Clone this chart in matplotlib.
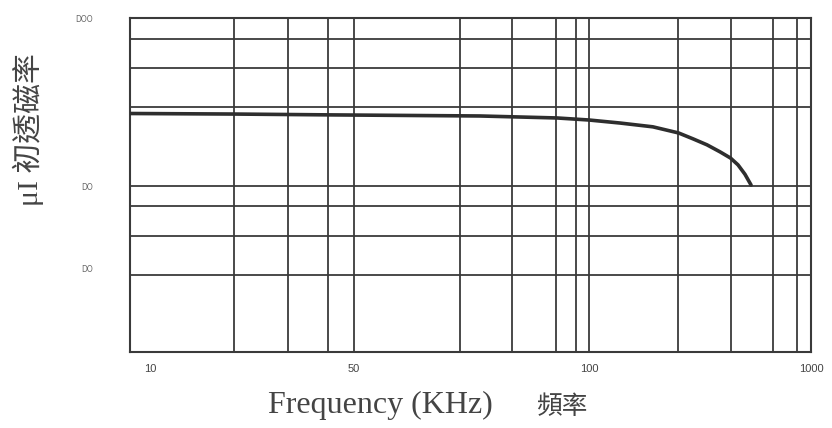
import numpy as np
import matplotlib
matplotlib.use('Agg')
from matplotlib import pyplot as plt

# curve: initial permeability vs frequency
freq = [8.54, 19.4, 40.7, 72.5, 91, 100, 138, 194, 253, 294, 340, 389, 434, 469, 504, 537]
mu = [268, 266, 263, 259, 252, 245, 235, 223, 205, 189, 174, 158, 145, 132, 116, 100]

# grid lines of the printed chart paper
grid_freq = [19.4, 29.6, 40.7, 50, 68.3, 79.7, 90.7, 96.1, 100, 253, 434, 674, 869]
grid_mu = [750, 505, 292, 98, 75, 49.4, 28.8]

xtick_vals = [10, 50, 100, 1000]
xtick_labels = ['10', '50', '100', '1000']
ytick_vals = [1000, 98, 31.8]
ytick_labels = ['DOO', 'DO', 'DO']

# the printed frequency axis is not evenly spaced, so map it piecewise
scale_f = [8.54, 10, 50, 100, 1000]
scale_pos = [0, 20, 224, 459, 681]


def fwd(f):
    f = np.clip(np.asarray(f, dtype=float), 1e-6, None)
    return np.interp(np.log10(f), np.log10(scale_f), scale_pos)


def inv(p):
    return 10 ** np.interp(p, scale_pos, np.log10(scale_f))


fig = plt.figure(figsize=(8.32, 4.28), dpi=100)
ax = fig.add_axes([130 / 832, 1 - 352 / 428, 681 / 832, 334 / 428])
ax.set_xscale('function', functions=(fwd, inv))
ax.set_yscale('log')
ax.set_xlim(8.54, 1000)
ax.set_ylim(10, 1000)

line_col = '#3a3a3a'
for f in grid_freq:
    ax.axvline(f, color=line_col, lw=1.3, zorder=1)
for m in grid_mu:
    ax.axhline(m, color=line_col, lw=1.3, zorder=1)

ax.plot(freq, mu, color='#2e2e2e', lw=2.6, solid_capstyle='round',
        solid_joinstyle='round', zorder=3)

for s in ax.spines.values():
    s.set_color(line_col)
    s.set_linewidth(1.5)

ax.set_xticks(xtick_vals)
ax.set_xticklabels(xtick_labels, fontsize=8, color='#444444', family='Liberation Sans')
ax.set_xticks([], minor=True)
ax.set_yticks(ytick_vals)
ax.set_yticklabels(ytick_labels, fontsize=5.5, color='#666666', family='DejaVu Sans')
ax.set_yticks([], minor=True)
ax.tick_params(axis='x', length=0, pad=9)
ax.tick_params(axis='y', length=0, pad=27)

# axis titles
fig.text(268 / 832, 1 - 413 / 428, 'Frequency (KHz)', fontsize=23, color='#444444',
         family='Liberation Serif', ha='left', va='baseline')
fig.text(536 / 832, 1 - 414 / 428, '頻率', fontsize=18.5, color='#444444',
         family=['Noto Sans CJK TC', 'DejaVu Sans'], ha='left', va='baseline')
fig.text(28 / 832, 1 - 130 / 428, 'μI 初透磁率', fontsize=21.5, color='#444444',
         family=['Liberation Serif', 'Noto Sans CJK TC'], rotation=90,
         ha='center', va='center')

fig.savefig('out.png', dpi=100, facecolor='white')
